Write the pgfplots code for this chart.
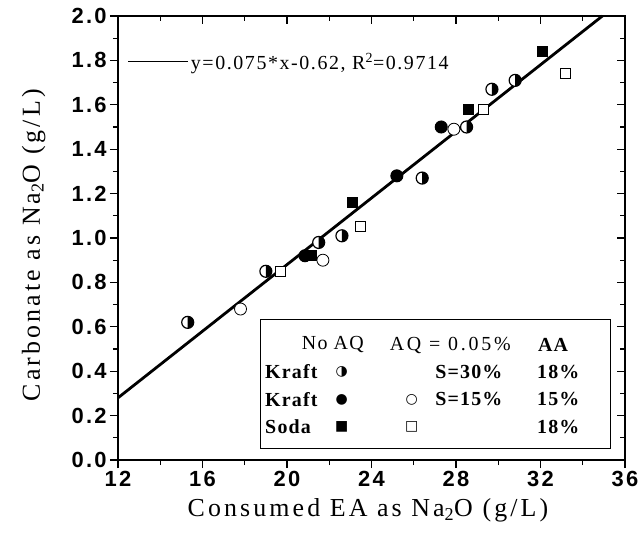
\documentclass[border=0pt]{standalone}
\usepackage{fontspec}
\setmainfont{Liberation Serif}
\setsansfont{Liberation Sans}
\newfontfamily\tickfont[LetterSpace=10]{Liberation Sans}
\newfontfamily\labfont[LetterSpace=12]{Liberation Serif}
\newfontfamily\eqfont[LetterSpace=8]{Liberation Serif}
\newfontfamily\legfont[LetterSpace=6]{Liberation Serif}
\newfontfamily\hdfont[LetterSpace=14]{Liberation Serif}
\newfontfamily\symfont{DejaVu Sans}
\usepackage{pgfplots}
\pgfplotsset{compat=1.18}

\pgfdeclareplotmark{halfcirc}{%
  \pgfpathcircle{\pgfpointorigin}{\pgfplotmarksize}%
  \pgfsetfillcolor{white}\pgfusepathqfill
  \pgfpathmoveto{\pgfqpoint{0pt}{\pgfplotmarksize}}%
  \pgfpatharc{90}{-90}{\pgfplotmarksize}%
  \pgfpathclose
  \pgfsetfillcolor{black}\pgfusepathqfill
  \pgfpathcircle{\pgfpointorigin}{\pgfplotmarksize}%
  \pgfusepathqstroke
}

\pgfplotsset{
  boxstyle/.style={
    at={(0,0)}, anchor=south west, scale only axis,
    width=507bp, height=444bp,
    xmin=12, xmax=36, ymin=0, ymax=2,
    xtick={12,16,20,24,28,32,36},
    ytick={0,0.2,0.4,0.6,0.8,1.0,1.2,1.4,1.6,1.8,2.0},
    minor x tick num=1, minor y tick num=1,
    major tick length=8bp, minor tick length=5bp,
    tick style={line width=1.2bp, black},
    axis line style={line width=1.5bp},
  }
}

\newcommand{\lf}{\legfont\fontsize{20}{20}\selectfont}
\newcommand{\lh}{\hdfont\fontsize{20}{20}\selectfont}
\newcommand{\lb}{\legfont\bfseries\fontsize{20}{20}\selectfont}
\newcommand{\sy}{\symfont\fontsize{14}{14}\selectfont}

\begin{document}
\begin{tikzpicture}
\useasboundingbox (-118bp,-88bp) rectangle (522bp,460bp);
\begin{axis}[boxstyle,
  xtick pos=left, ytick pos=left, tick align=outside,
  ticklabel style={font=\tickfont\bfseries\fontsize{22}{22}\selectfont},
  /pgf/number format/assume math mode=true,
  yticklabel style={/pgf/number format/.cd, fixed, fixed zerofill, precision=1},
  xticklabel style={/pgf/number format/.cd, fixed, precision=0},
  xlabel={Consumed EA as Na\textsubscript{2}O (g/L)},
  ylabel={Carbonate as Na\textsubscript{2}O (g/L)},
  label style={font=\labfont\fontsize{26}{26}\selectfont},
  xlabel style={at={(axis description cs:0.493,-0.128)}, anchor=base},
  ylabel style={at={(axis description cs:-0.154,0.484)}, anchor=base},
  clip=false,
  legend style={at={(axis cs:12.47,1.793)}, anchor=west, draw=none, fill=none,
    inner sep=0pt, outer sep=0pt, font=\eqfont\fontsize{20}{20}\selectfont},
  legend image code/.code={\draw[line width=1bp] (0bp,0bp) -- (60bp,0bp);},
]
% fit line
\addplot[line width=2.8bp, black] coordinates {(12,0.28) (34.93,2.0)};
\addlegendentry{y=0.075*x-0.62, R\textsuperscript{2}=0.9714}

% Kraft, S=30%, no AQ (half-filled circles)
\addplot[only marks, mark=halfcirc, mark size=6bp, line width=1.2bp, black, forget plot]
  coordinates {(15.3,0.62) (19.0,0.85) (21.5,0.98) (22.6,1.01) (26.4,1.27) (28.5,1.50) (29.7,1.67) (30.8,1.71)};
% Kraft, S=15%, AQ (open circles)
\addplot[only marks, mark=*, mark size=6bp, line width=0.8bp, black, mark options={fill=white}, forget plot]
  coordinates {(17.8,0.68) (21.7,0.90) (27.9,1.49)};
% Kraft, S=15%, no AQ (filled circles)
\addplot[only marks, mark=*, mark size=6bp, line width=1bp, black, mark options={fill=black}, forget plot]
  coordinates {(20.85,0.92) (25.2,1.28) (27.3,1.50)};
% Soda, AQ (open squares)
\addplot[only marks, mark=square*, mark size=5bp, line width=1bp, black, mark options={fill=white}, forget plot]
  coordinates {(19.7,0.85) (23.5,1.05) (29.3,1.58) (33.2,1.74)};
% Soda, no AQ (filled squares)
\addplot[only marks, mark=square*, mark size=5bp, line width=1bp, black, mark options={fill=black}, forget plot]
  coordinates {(21.15,0.92) (23.1,1.16) (28.6,1.58) (32.1,1.84)};

% legend box
\draw[line width=0.9bp, fill=white] (axis cs:18.72,0.054) rectangle (axis cs:35.29,0.635);
\node[anchor=west, inner sep=0pt] at (axis cs:20.70,0.518) {\lf No AQ};
\node[anchor=east, inner sep=0pt] at (axis cs:30.60,0.518) {\lh AQ = 0.05\%};
\node[anchor=west, inner sep=0pt] at (axis cs:31.88,0.518) {\lb AA};
\node[anchor=west, inner sep=0pt] at (axis cs:18.96,0.398) {\lb Kraft};
\node[anchor=west, inner sep=0pt] at (axis cs:18.96,0.273) {\lb Kraft};
\node[anchor=west, inner sep=0pt] at (axis cs:18.96,0.150) {\lb Soda};
\node[inner sep=0pt] at (axis cs:22.59,0.398) {\sy ◑};
\node[inner sep=0pt] at (axis cs:22.59,0.273) {\sy ●};
\node[inner sep=0pt] at (axis cs:22.59,0.150) {\sy ■};
\node[inner sep=0pt] at (axis cs:25.90,0.273) {\sy ○};
\node[inner sep=0pt] at (axis cs:25.90,0.150) {\sy □};
\node[anchor=west, inner sep=0pt] at (axis cs:27.01,0.398) {\lb S=30\%};
\node[anchor=west, inner sep=0pt] at (axis cs:27.01,0.273) {\lb S=15\%};
\node[anchor=west, inner sep=0pt] at (axis cs:31.83,0.398) {\lb 18\%};
\node[anchor=west, inner sep=0pt] at (axis cs:31.83,0.273) {\lb 15\%};
\node[anchor=west, inner sep=0pt] at (axis cs:31.83,0.150) {\lb 18\%};
\end{axis}
\begin{axis}[boxstyle,
  xtick pos=right, ytick pos=right, tick align=inside,
  xticklabels={}, yticklabels={},
]
\addplot[draw=none] coordinates {(12,0)};
\end{axis}
\end{tikzpicture}
\end{document}
